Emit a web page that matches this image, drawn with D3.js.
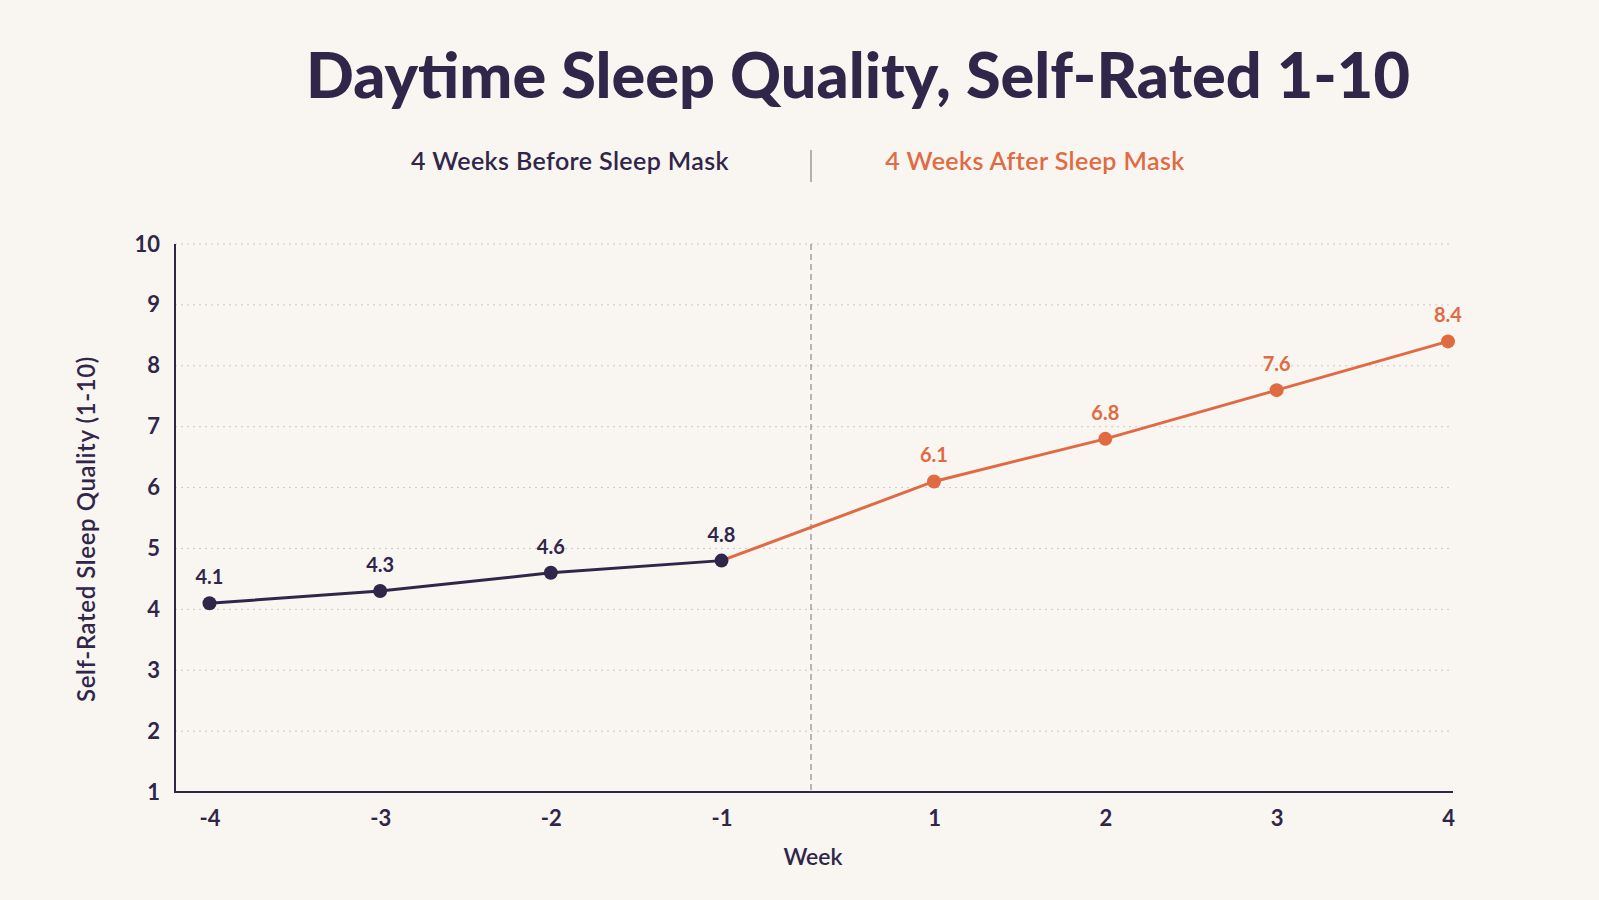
<!DOCTYPE html>
<html>
<head>
<meta charset="utf-8">
<script src="https://cdn.jsdelivr.net/npm/d3@7"></script>
<style>
  html, body { margin: 0; padding: 0; background: #f9f5f0; }
  svg { display: block; font-family: Lato, 'Open Sans', sans-serif; }
</style>
</head>
<body>
<div id="chart"></div>
<script>
// data
const beforeWeeks = [-4, -3, -2, -1]
const beforeValues = [4.1, 4.3, 4.6, 4.8]
const afterWeeks = [1, 2, 3, 4]
const afterValues = [6.1, 6.8, 7.6, 8.4]
const yTicks = [1, 2, 3, 4, 5, 6, 7, 8, 9, 10]

const title = 'Daytime Sleep Quality, Self-Rated 1-10'
const beforeLabel = '4 Weeks Before Sleep Mask'
const afterLabel = '4 Weeks After Sleep Mask'
const xLabel = 'Week'
const yLabel = 'Self-Rated Sleep Quality (1-10)'

const dark = '#30264a'
const orange = '#e06b43'

const outerWidth = 1599
const outerHeight = 900
const margin = { top: 244, right: 146, bottom: 108, left: 175 }
const width = outerWidth - margin.left - margin.right
const height = outerHeight - margin.top - margin.bottom

const before = beforeWeeks.map((w, i) => ({ week: w, value: beforeValues[i] }))
const after = afterWeeks.map((w, i) => ({ week: w, value: afterValues[i] }))

let raw = d3.select('#chart')
  .append('svg')
  .attr('width', outerWidth)
  .attr('height', outerHeight)

// title + legend header
raw.append('text')
  .attr('x', 858)
  .attr('y', 98)
  .attr('text-anchor', 'middle')
  .attr('font-size', 63)
  .attr('font-weight', 900)
  .attr('fill', dark)
  .text(title)

raw.append('text')
  .attr('x', 570)
  .attr('y', 170)
  .attr('text-anchor', 'middle')
  .attr('font-size', 25)
  .attr('font-weight', 600)
  .attr('letter-spacing', 0.4)
  .attr('fill', dark)
  .text(beforeLabel)
raw.append('text')
  .attr('x', 1035)
  .attr('y', 170)
  .attr('text-anchor', 'middle')
  .attr('font-size', 25)
  .attr('font-weight', 600)
  .attr('letter-spacing', 0.4)
  .attr('fill', orange)
  .text(afterLabel)
raw.append('line')
  .attr('x1', 811).attr('x2', 811)
  .attr('y1', 150).attr('y2', 182)
  .attr('stroke', '#6f6a72')
  .attr('stroke-width', 1)

let svg = raw.append('g')
  .attr('transform', `translate(${margin.left},${margin.top})`)

// scales: the two periods are laid out with a wider gap between -1 and 1
let xs = d3.scaleLinear()
  .domain([-4, -1, 1, 4])
  .range([34.5, 546.5, 759, 1273])
let ys = d3.scaleLinear()
  .domain([1, 10])
  .range([height, 0])

// grid
svg.append('g')
  .selectAll('line')
  .data(yTicks.slice(1))
  .enter()
  .append('line')
  .attr('x1', 0)
  .attr('x2', width)
  .attr('y1', (d) => ys(d))
  .attr('y2', (d) => ys(d))
  .attr('stroke', '#cfc9c4')
  .attr('stroke-width', 1)
  .attr('stroke-dasharray', '2 4')

// period divider
svg.append('line')
  .attr('x1', width / 2 - 3).attr('x2', width / 2 - 3)
  .attr('y1', 0).attr('y2', height)
  .attr('stroke', '#8d8890')
  .attr('stroke-width', 1.2)
  .attr('stroke-dasharray', '6 4')

const styleTicks = (g) => g.selectAll('text')
  .attr('font-family', 'Lato, sans-serif')
  .attr('font-size', 22)
  .attr('font-weight', 700)
  .attr('fill', dark)

// axes
svg.append('g')
  .call(d3.axisLeft(ys).tickValues(yTicks).tickSize(0).tickPadding(15))
  .call((g) => g.select('.domain').remove())
  .call(styleTicks)
svg.append('g')
  .attr('transform', `translate(0,${height})`)
  .call(d3.axisBottom(xs).tickValues(beforeWeeks.concat(afterWeeks))
    .tickFormat((d) => String(d)).tickSize(0).tickPadding(18))
  .call((g) => g.select('.domain').remove())
  .call(styleTicks)

svg.append('path')
  .attr('d', `M0,0V${height}H${width}`)
  .attr('fill', 'none')
  .attr('stroke', dark)
  .attr('stroke-width', 2)

// lines
let line = d3.line()
  .x((d) => xs(d.week))
  .y((d) => ys(d.value))
svg.append('path')
  .datum([before[before.length - 1]].concat(after))
  .attr('d', line)
  .attr('fill', 'none')
  .attr('stroke', orange)
  .attr('stroke-width', 3)
svg.append('path')
  .datum(before)
  .attr('d', line)
  .attr('fill', 'none')
  .attr('stroke', dark)
  .attr('stroke-width', 3)

// points and value labels
const series = [
  { data: before, color: dark },
  { data: after, color: orange }
]
series.forEach((s) => {
  svg.selectAll(null)
    .data(s.data)
    .enter()
    .append('circle')
    .attr('cx', (d) => xs(d.week))
    .attr('cy', (d) => ys(d.value))
    .attr('r', 7)
    .attr('fill', s.color)
  svg.selectAll(null)
    .data(s.data)
    .enter()
    .append('text')
    .attr('x', (d) => xs(d.week))
    .attr('y', (d) => ys(d.value) - 19)
    .attr('text-anchor', 'middle')
    .attr('font-size', 20)
    .attr('font-weight', 700)
    .attr('fill', s.color)
    .text((d) => d.value.toFixed(1))
})

// axis labels
svg.append('text')
  .attr('transform', 'rotate(-90)')
  .attr('x', -285)
  .attr('y', -80)
  .attr('text-anchor', 'middle')
  .attr('font-size', 24)
  .attr('font-weight', 600)
  .attr('letter-spacing', 0.6)
  .attr('fill', dark)
  .text(yLabel)
svg.append('text')
  .attr('x', width / 2 - 1)
  .attr('y', height + 73)
  .attr('text-anchor', 'middle')
  .attr('font-size', 23)
  .attr('font-weight', 600)
  .attr('fill', dark)
  .text(xLabel)
</script>
</body>
</html>
